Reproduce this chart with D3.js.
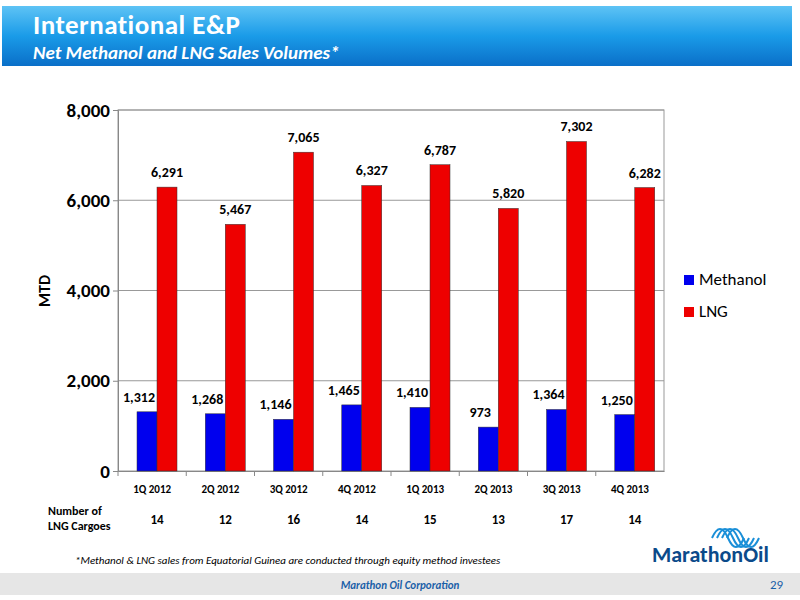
<!DOCTYPE html>
<meta charset="utf-8">
<style>
body { margin: 0; background: #fff; }
text { font-family: Calibri, Carlito, "Open Sans", sans-serif; }
</style>
<body>
<script src="https://d3js.org/d3.v7.min.js"></script>
<script>

var quarters = ["1Q 2012", "2Q 2012", "3Q 2012", "4Q 2012", "1Q 2013", "2Q 2013", "3Q 2013", "4Q 2013"];
var methanol = [1312, 1268, 1146, 1465, 1410, 973, 1364, 1250];
var lng = [6291, 5467, 7065, 6327, 6787, 5820, 7302, 6282];
var cargoes = [14, 12, 16, 14, 15, 13, 17, 14];
var yTicks = [0, 2000, 4000, 6000, 8000];

var svg = d3.select("body").append("svg").attr("width", 800).attr("height", 600);
var defs = svg.append("defs");
var hg = defs.append("linearGradient").attr("id", "hg").attr("x1", 0).attr("y1", 0).attr("x2", 0).attr("y2", 1);
hg.append("stop").attr("offset", "0").attr("stop-color", "#5ec3f5");
hg.append("stop").attr("offset", "0.5").attr("stop-color", "#1a9be8");
hg.append("stop").attr("offset", "1").attr("stop-color", "#0a6fc8");

// header band
svg.append("rect").attr("x", 2).attr("y", 6).attr("width", 790).attr("height", 60).attr("fill", "url(#hg)");
svg.append("text").attr("x", 33).attr("y", 34).attr("fill", "#fff")
	.style("font-size", "27px").style("font-weight", "bold").style("letter-spacing", "0.5px").text("International E&P");
svg.append("text").attr("x", 33).attr("y", 59).attr("fill", "#fff")
	.style("font-size", "19px").style("font-weight", "bold").style("font-style", "italic")
	.text("Net Methanol and LNG Sales Volumes*");

var pLeft = 118, pRight = 664, pTop = 110, pBottom = 471;
var x = d3.scaleBand().domain(quarters).range([pLeft, pRight]);
var y = d3.scaleLinear().domain([0, 8000]).range([pBottom, pTop]);
var bw = 20;

var g = svg.append("g");
g.selectAll(".grid").data(yTicks.slice(1)).enter().append("line")
	.attr("x1", pLeft).attr("x2", pRight).attr("y1", d => y(d)).attr("y2", d => y(d))
	.attr("stroke", "#999").attr("stroke-width", 1);
g.append("rect").attr("x", pLeft).attr("y", pTop).attr("width", pRight - pLeft).attr("height", pBottom - pTop)
	.attr("fill", "none").attr("stroke", "#999");

var yAxis = g.append("g").attr("transform", "translate(" + pLeft + ",0)")
	.call(d3.axisLeft(y).tickValues(yTicks).tickSize(5).tickFormat(d3.format(",")));
yAxis.selectAll("text").style("font-size", "19px").style("font-weight", "bold").attr("fill", "#000");
yAxis.select(".domain").attr("stroke", "#888");
yAxis.selectAll("line").attr("stroke", "#888");

var xAxis = g.append("g").attr("transform", "translate(0," + pBottom + ")")
	.call(d3.axisBottom(x).tickSize(5).tickSizeOuter(0));
xAxis.selectAll("text").style("font-size", "11px").style("font-weight", "bold").attr("fill", "#000").attr("dy", "1.3em");
xAxis.select(".domain").attr("stroke", "#888");
xAxis.selectAll(".tick line").attr("transform", "translate(" + (-x.bandwidth() / 2) + ",0)").attr("stroke", "#888");

svg.append("text").attr("transform", "translate(50,291) rotate(-90)").attr("text-anchor", "middle")
	.style("font-size", "16px").style("font-weight", "bold").text("MTD");

function bars(vals, color, off, lx) {
	g.selectAll(null).data(vals).enter().append("rect")
		.attr("x", (d, i) => x(quarters[i]) + off).attr("width", bw)
		.attr("y", d => y(d)).attr("height", d => pBottom - y(d))
		.attr("fill", color).attr("stroke", "#333").attr("stroke-width", 0.5);
	g.selectAll(null).data(vals).enter().append("text")
		.attr("x", (d, i) => x(quarters[i]) + off + bw / 2 + lx).attr("y", d => y(d) - 10)
		.attr("text-anchor", "middle").style("font-size", "14px").style("font-weight", "bold")
		.text(d => d3.format(",")(d));
}
bars(methanol, "#0000ee", 19, -8);
bars(lng, "#ee0000", 39, 0);

// legend
var leg = svg.append("g");
[["Methanol", "#0000ee", 281], ["LNG", "#ee0000", 313]].forEach(function(l) {
	leg.append("rect").attr("x", 684).attr("y", l[2] - 6).attr("width", 10).attr("height", 10).attr("fill", l[1]);
	leg.append("text").attr("x", 699).attr("y", l[2] + 4).style("font-size", "17px").text(l[0]);
});

// cargoes
svg.append("text").attr("x", 48).attr("y", 515).style("font-size", "12px").style("font-weight", "bold").text("Number of");
svg.append("text").attr("x", 48).attr("y", 530).style("font-size", "12px").style("font-weight", "bold").text("LNG Cargoes");
svg.selectAll(".cg").data(cargoes).enter().append("text")
	.attr("x", (d, i) => x(quarters[i]) + x.bandwidth() / 2 + 5).attr("y", 524)
	.attr("text-anchor", "middle").style("font-size", "13px").style("font-weight", "bold").text(d => d);

svg.append("text").attr("x", 75).attr("y", 564).style("font-size", "11px").style("font-style", "italic")
	.text("*Methanol & LNG sales from Equatorial Guinea are conducted through equity method investees");

// logo
var lg = svg.append("g");
for (var i = 0; i < 4; i++) {
	lg.append("path").attr("d", "M" + (712 + i * 5) + ",538 q8,-18 16,0 t16,0")
		.attr("fill", "none").attr("stroke", "#1a8fd8").attr("stroke-width", 2);
}
lg.append("text").attr("x", 652).attr("y", 562).attr("fill", "#0b4a8a")
	.style("font-size", "22px").style("font-weight", "bold").text("MarathonOil");

// footer
svg.append("rect").attr("x", 0).attr("y", 573).attr("width", 800).attr("height", 22).attr("fill", "#e6e6e6");
svg.append("text").attr("x", 400).attr("y", 589).attr("text-anchor", "middle").attr("fill", "#1a5fa8")
	.style("font-size", "11px").style("font-weight", "bold").style("font-style", "italic").text("Marathon Oil Corporation");
svg.append("text").attr("x", 770).attr("y", 589).attr("fill", "#1a5fa8").style("font-size", "13px").text("29");
</script>
</body>
